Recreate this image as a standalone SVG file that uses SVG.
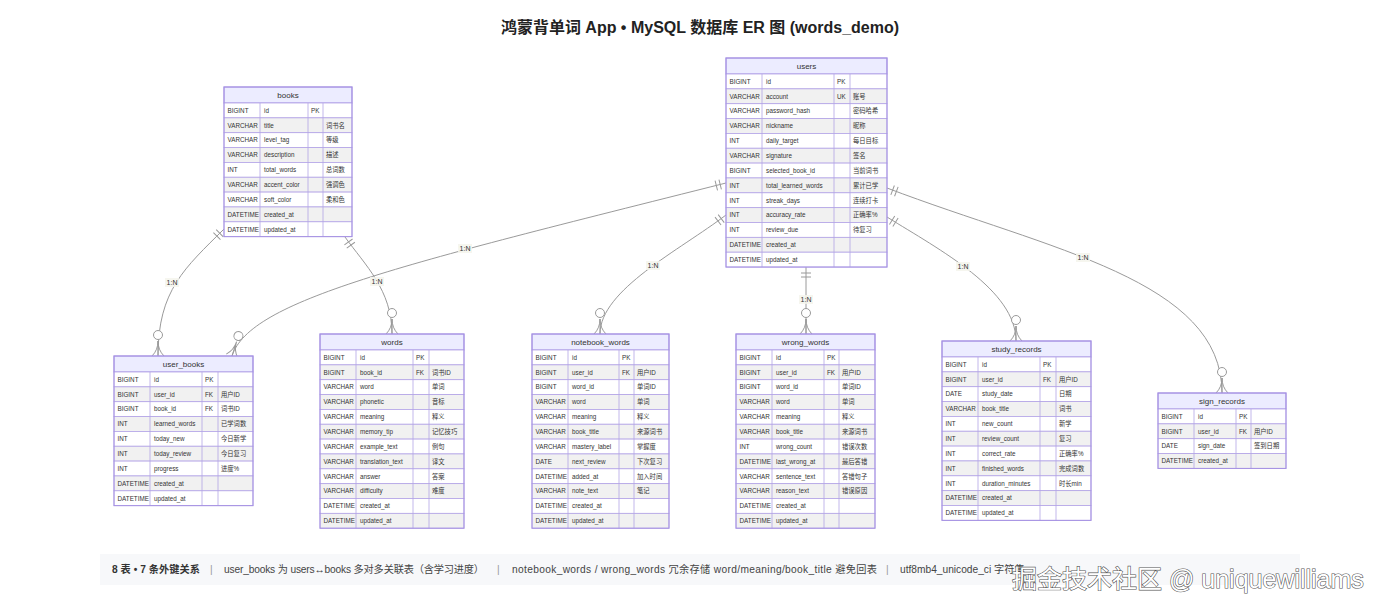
<svg xmlns="http://www.w3.org/2000/svg" width="1400" height="611" viewBox="0 0 1400 611">
<style>
.hd{fill:#ECECFF;stroke:#a591e3;stroke-width:1}
.r0{fill:#ffffff;stroke:#b3a4e6;stroke-width:0.8}
.r1{fill:#f1f1f1;stroke:#b3a4e6;stroke-width:0.8}
.vl{stroke:#b3a4e6;stroke-width:0.8;fill:none}
.ol{fill:none;stroke:#a591e3;stroke-width:1}
.c{font-family:"Liberation Sans","Noto Sans CJK SC",sans-serif;font-size:6.3px;fill:#333}
.h{font-family:"Liberation Sans","Noto Sans CJK SC",sans-serif;font-size:8px;fill:#333;text-anchor:middle}
.e{fill:none;stroke:#9a9a9a;stroke-width:1}
.lb{font-family:"Liberation Sans",sans-serif;font-size:7px;fill:#333;text-anchor:middle}
.lbg{fill:#f4f4ec;opacity:0.85}
.title{font-family:"Liberation Sans","Noto Sans CJK SC",sans-serif;font-size:16px;font-weight:bold;fill:#222;text-anchor:middle}
.ft{font-family:"Liberation Sans","Noto Sans CJK SC",sans-serif;font-size:10.2px;fill:#444}
.ftb{font-family:"Liberation Sans","Noto Sans CJK SC",sans-serif;font-size:10.2px;fill:#333;font-weight:bold}
.sep{font-family:"Liberation Sans",sans-serif;font-size:10.2px;fill:#999}
.wm{font-family:"Liberation Sans","Noto Sans CJK SC",sans-serif;font-size:25px;fill:#fff;stroke:#555;stroke-width:1.2;paint-order:stroke}
</style>
<defs>
<marker id="one" markerUnits="userSpaceOnUse" markerWidth="20" markerHeight="20" viewBox="0 -10 20 20" refX="0" refY="0" orient="auto">
<path d="M6,-5 L6,5 M10,-5 L10,5" stroke="#9a9a9a" stroke-width="1" fill="none"/>
</marker>
<marker id="zm" markerUnits="userSpaceOnUse" markerWidth="30" markerHeight="20" viewBox="-28 -10 30 20" refX="0" refY="0" orient="auto">
<path d="M-15,0 Q-6,0 0,-6 M-15,0 Q-6,0 0,6 M-15,0 L0,0" stroke="#9a9a9a" stroke-width="1" fill="none"/>
<circle cx="-21" cy="0" r="4.5" fill="#fff" stroke="#9a9a9a" stroke-width="1"/>
</marker>
</defs>
<rect width="1400" height="611" fill="#fff"/>
<text class="title" x="700" y="33">鸿蒙背单词 App • MySQL 数据库 ER 图 (words_demo)</text>

<g id="connectors">
<path class="e" d="M224,229 C185,268 158,290 158,356" marker-start="url(#one)" marker-end="url(#zm)"/>
<path class="e" d="M345,237 C365,265 392,290 392,334" marker-start="url(#one)" marker-end="url(#zm)"/>
<path class="e" d="M726,183 C400,265 250,300 232,356" marker-start="url(#one)" marker-end="url(#zm)"/>
<path class="e" d="M726,215 C680,250 600,290 600,334" marker-start="url(#one)" marker-end="url(#zm)"/>
<path class="e" d="M806,267 L806,334" marker-start="url(#one)" marker-end="url(#zm)"/>
<path class="e" d="M887,217 C940,250 1016,290 1016,341" marker-start="url(#one)" marker-end="url(#zm)"/>
<path class="e" d="M887,188 C1050,250 1222,280 1222,393" marker-start="url(#one)" marker-end="url(#zm)"/>
<g>
<rect class="lbg" x="165" y="278" width="14" height="9"/><text class="lb" x="172" y="285">1:N</text>
<rect class="lbg" x="370" y="277" width="14" height="9"/><text class="lb" x="377" y="284">1:N</text>
<rect class="lbg" x="458" y="244" width="14" height="9"/><text class="lb" x="465" y="251">1:N</text>
<rect class="lbg" x="646" y="261" width="14" height="9"/><text class="lb" x="653" y="268">1:N</text>
<rect class="lbg" x="799" y="295" width="14" height="9"/><text class="lb" x="806" y="302">1:N</text>
<rect class="lbg" x="956" y="262" width="14" height="9"/><text class="lb" x="963" y="269">1:N</text>
<rect class="lbg" x="1076" y="253" width="14" height="9"/><text class="lb" x="1083" y="260">1:N</text>
</g>
</g>

<g id="books" transform="translate(224,87)">
<rect class="hd" x="0" y="0" width="128" height="16"/>
<text class="h" x="64" y="11">books</text>
<rect class="r0" x="0" y="16" width="128" height="14.85"/>
<rect class="r1" x="0" y="30.85" width="128" height="14.85"/>
<rect class="r0" x="0" y="45.7" width="128" height="14.85"/>
<rect class="r1" x="0" y="60.55" width="128" height="14.85"/>
<rect class="r0" x="0" y="75.4" width="128" height="14.85"/>
<rect class="r1" x="0" y="90.25" width="128" height="14.85"/>
<rect class="r0" x="0" y="105.1" width="128" height="14.85"/>
<rect class="r1" x="0" y="119.95" width="128" height="14.85"/>
<rect class="r0" x="0" y="134.8" width="128" height="14.85"/>
<path class="vl" d="M36,16 V149.65 M84,16 V149.65 M99,16 V149.65"/>
<rect class="ol" x="0" y="0" width="128" height="149.65"/>
<text class="c" y="25.7"><tspan x="3.5">BIGINT</tspan><tspan x="40">id</tspan><tspan x="87">PK</tspan></text>
<text class="c" y="40.55"><tspan x="3.5">VARCHAR</tspan><tspan x="40">title</tspan><tspan x="102">词书名</tspan></text>
<text class="c" y="55.4"><tspan x="3.5">VARCHAR</tspan><tspan x="40">level_tag</tspan><tspan x="102">等级</tspan></text>
<text class="c" y="70.25"><tspan x="3.5">VARCHAR</tspan><tspan x="40">description</tspan><tspan x="102">描述</tspan></text>
<text class="c" y="85.1"><tspan x="3.5">INT</tspan><tspan x="40">total_words</tspan><tspan x="102">总词数</tspan></text>
<text class="c" y="99.95"><tspan x="3.5">VARCHAR</tspan><tspan x="40">accent_color</tspan><tspan x="102">强调色</tspan></text>
<text class="c" y="114.8"><tspan x="3.5">VARCHAR</tspan><tspan x="40">soft_color</tspan><tspan x="102">柔和色</tspan></text>
<text class="c" y="129.65"><tspan x="3.5">DATETIME</tspan><tspan x="40">created_at</tspan></text>
<text class="c" y="144.5"><tspan x="3.5">DATETIME</tspan><tspan x="40">updated_at</tspan></text>
</g>

<g id="users" transform="translate(726,58)">
<rect class="hd" x="0" y="0" width="161" height="16"/>
<text class="h" x="80.5" y="11">users</text>
<rect class="r0" x="0" y="16" width="161" height="14.85"/>
<rect class="r1" x="0" y="30.85" width="161" height="14.85"/>
<rect class="r0" x="0" y="45.7" width="161" height="14.85"/>
<rect class="r1" x="0" y="60.55" width="161" height="14.85"/>
<rect class="r0" x="0" y="75.4" width="161" height="14.85"/>
<rect class="r1" x="0" y="90.25" width="161" height="14.85"/>
<rect class="r0" x="0" y="105.1" width="161" height="14.85"/>
<rect class="r1" x="0" y="119.95" width="161" height="14.85"/>
<rect class="r0" x="0" y="134.8" width="161" height="14.85"/>
<rect class="r1" x="0" y="149.65" width="161" height="14.85"/>
<rect class="r0" x="0" y="164.5" width="161" height="14.85"/>
<rect class="r1" x="0" y="179.35" width="161" height="14.85"/>
<rect class="r0" x="0" y="194.2" width="161" height="14.85"/>
<path class="vl" d="M36,16 V209.05 M108,16 V209.05 M124,16 V209.05"/>
<rect class="ol" x="0" y="0" width="161" height="209.05"/>
<text class="c" y="25.7"><tspan x="3.5">BIGINT</tspan><tspan x="40">id</tspan><tspan x="111">PK</tspan></text>
<text class="c" y="40.55"><tspan x="3.5">VARCHAR</tspan><tspan x="40">account</tspan><tspan x="111">UK</tspan><tspan x="127">账号</tspan></text>
<text class="c" y="55.4"><tspan x="3.5">VARCHAR</tspan><tspan x="40">password_hash</tspan><tspan x="127">密码哈希</tspan></text>
<text class="c" y="70.25"><tspan x="3.5">VARCHAR</tspan><tspan x="40">nickname</tspan><tspan x="127">昵称</tspan></text>
<text class="c" y="85.1"><tspan x="3.5">INT</tspan><tspan x="40">daily_target</tspan><tspan x="127">每日目标</tspan></text>
<text class="c" y="99.95"><tspan x="3.5">VARCHAR</tspan><tspan x="40">signature</tspan><tspan x="127">签名</tspan></text>
<text class="c" y="114.8"><tspan x="3.5">BIGINT</tspan><tspan x="40">selected_book_id</tspan><tspan x="127">当前词书</tspan></text>
<text class="c" y="129.65"><tspan x="3.5">INT</tspan><tspan x="40">total_learned_words</tspan><tspan x="127">累计已学</tspan></text>
<text class="c" y="144.5"><tspan x="3.5">INT</tspan><tspan x="40">streak_days</tspan><tspan x="127">连续打卡</tspan></text>
<text class="c" y="159.35"><tspan x="3.5">INT</tspan><tspan x="40">accuracy_rate</tspan><tspan x="127">正确率%</tspan></text>
<text class="c" y="174.2"><tspan x="3.5">INT</tspan><tspan x="40">review_due</tspan><tspan x="127">待复习</tspan></text>
<text class="c" y="189.05"><tspan x="3.5">DATETIME</tspan><tspan x="40">created_at</tspan></text>
<text class="c" y="203.9"><tspan x="3.5">DATETIME</tspan><tspan x="40">updated_at</tspan></text>
</g>

<g id="user_books" transform="translate(114,356)">
<rect class="hd" x="0" y="0" width="139" height="16"/>
<text class="h" x="69.5" y="11">user_books</text>
<rect class="r0" x="0" y="16" width="139" height="14.85"/>
<rect class="r1" x="0" y="30.85" width="139" height="14.85"/>
<rect class="r0" x="0" y="45.7" width="139" height="14.85"/>
<rect class="r1" x="0" y="60.55" width="139" height="14.85"/>
<rect class="r0" x="0" y="75.4" width="139" height="14.85"/>
<rect class="r1" x="0" y="90.25" width="139" height="14.85"/>
<rect class="r0" x="0" y="105.1" width="139" height="14.85"/>
<rect class="r1" x="0" y="119.95" width="139" height="14.85"/>
<rect class="r0" x="0" y="134.8" width="139" height="14.85"/>
<path class="vl" d="M36,16 V149.65 M88,16 V149.65 M104,16 V149.65"/>
<rect class="ol" x="0" y="0" width="139" height="149.65"/>
<text class="c" y="25.7"><tspan x="3.5">BIGINT</tspan><tspan x="40">id</tspan><tspan x="91">PK</tspan></text>
<text class="c" y="40.55"><tspan x="3.5">BIGINT</tspan><tspan x="40">user_id</tspan><tspan x="91">FK</tspan><tspan x="107">用户ID</tspan></text>
<text class="c" y="55.4"><tspan x="3.5">BIGINT</tspan><tspan x="40">book_id</tspan><tspan x="91">FK</tspan><tspan x="107">词书ID</tspan></text>
<text class="c" y="70.25"><tspan x="3.5">INT</tspan><tspan x="40">learned_words</tspan><tspan x="107">已学词数</tspan></text>
<text class="c" y="85.1"><tspan x="3.5">INT</tspan><tspan x="40">today_new</tspan><tspan x="107">今日新学</tspan></text>
<text class="c" y="99.95"><tspan x="3.5">INT</tspan><tspan x="40">today_review</tspan><tspan x="107">今日复习</tspan></text>
<text class="c" y="114.8"><tspan x="3.5">INT</tspan><tspan x="40">progress</tspan><tspan x="107">进度%</tspan></text>
<text class="c" y="129.65"><tspan x="3.5">DATETIME</tspan><tspan x="40">created_at</tspan></text>
<text class="c" y="144.5"><tspan x="3.5">DATETIME</tspan><tspan x="40">updated_at</tspan></text>
</g>

<g id="words" transform="translate(320,334)">
<rect class="hd" x="0" y="0" width="144" height="16"/>
<text class="h" x="72" y="11">words</text>
<rect class="r0" x="0" y="16" width="144" height="14.85"/>
<rect class="r1" x="0" y="30.85" width="144" height="14.85"/>
<rect class="r0" x="0" y="45.7" width="144" height="14.85"/>
<rect class="r1" x="0" y="60.55" width="144" height="14.85"/>
<rect class="r0" x="0" y="75.4" width="144" height="14.85"/>
<rect class="r1" x="0" y="90.25" width="144" height="14.85"/>
<rect class="r0" x="0" y="105.1" width="144" height="14.85"/>
<rect class="r1" x="0" y="119.95" width="144" height="14.85"/>
<rect class="r0" x="0" y="134.8" width="144" height="14.85"/>
<rect class="r1" x="0" y="149.65" width="144" height="14.85"/>
<rect class="r0" x="0" y="164.5" width="144" height="14.85"/>
<rect class="r1" x="0" y="179.35" width="144" height="14.85"/>
<path class="vl" d="M36,16 V194.2 M93,16 V194.2 M109,16 V194.2"/>
<rect class="ol" x="0" y="0" width="144" height="194.2"/>
<text class="c" y="25.7"><tspan x="3.5">BIGINT</tspan><tspan x="40">id</tspan><tspan x="96">PK</tspan></text>
<text class="c" y="40.55"><tspan x="3.5">BIGINT</tspan><tspan x="40">book_id</tspan><tspan x="96">FK</tspan><tspan x="112">词书ID</tspan></text>
<text class="c" y="55.4"><tspan x="3.5">VARCHAR</tspan><tspan x="40">word</tspan><tspan x="112">单词</tspan></text>
<text class="c" y="70.25"><tspan x="3.5">VARCHAR</tspan><tspan x="40">phonetic</tspan><tspan x="112">音标</tspan></text>
<text class="c" y="85.1"><tspan x="3.5">VARCHAR</tspan><tspan x="40">meaning</tspan><tspan x="112">释义</tspan></text>
<text class="c" y="99.95"><tspan x="3.5">VARCHAR</tspan><tspan x="40">memory_tip</tspan><tspan x="112">记忆技巧</tspan></text>
<text class="c" y="114.8"><tspan x="3.5">VARCHAR</tspan><tspan x="40">example_text</tspan><tspan x="112">例句</tspan></text>
<text class="c" y="129.65"><tspan x="3.5">VARCHAR</tspan><tspan x="40">translation_text</tspan><tspan x="112">译文</tspan></text>
<text class="c" y="144.5"><tspan x="3.5">VARCHAR</tspan><tspan x="40">answer</tspan><tspan x="112">答案</tspan></text>
<text class="c" y="159.35"><tspan x="3.5">VARCHAR</tspan><tspan x="40">difficulty</tspan><tspan x="112">难度</tspan></text>
<text class="c" y="174.2"><tspan x="3.5">DATETIME</tspan><tspan x="40">created_at</tspan></text>
<text class="c" y="189.05"><tspan x="3.5">DATETIME</tspan><tspan x="40">updated_at</tspan></text>
</g>

<g id="notebook_words" transform="translate(532,334)">
<rect class="hd" x="0" y="0" width="137" height="16"/>
<text class="h" x="68.5" y="11">notebook_words</text>
<rect class="r0" x="0" y="16" width="137" height="14.85"/>
<rect class="r1" x="0" y="30.85" width="137" height="14.85"/>
<rect class="r0" x="0" y="45.7" width="137" height="14.85"/>
<rect class="r1" x="0" y="60.55" width="137" height="14.85"/>
<rect class="r0" x="0" y="75.4" width="137" height="14.85"/>
<rect class="r1" x="0" y="90.25" width="137" height="14.85"/>
<rect class="r0" x="0" y="105.1" width="137" height="14.85"/>
<rect class="r1" x="0" y="119.95" width="137" height="14.85"/>
<rect class="r0" x="0" y="134.8" width="137" height="14.85"/>
<rect class="r1" x="0" y="149.65" width="137" height="14.85"/>
<rect class="r0" x="0" y="164.5" width="137" height="14.85"/>
<rect class="r1" x="0" y="179.35" width="137" height="14.85"/>
<path class="vl" d="M36,16 V194.2 M87,16 V194.2 M102,16 V194.2"/>
<rect class="ol" x="0" y="0" width="137" height="194.2"/>
<text class="c" y="25.7"><tspan x="3.5">BIGINT</tspan><tspan x="40">id</tspan><tspan x="90">PK</tspan></text>
<text class="c" y="40.55"><tspan x="3.5">BIGINT</tspan><tspan x="40">user_id</tspan><tspan x="90">FK</tspan><tspan x="105">用户ID</tspan></text>
<text class="c" y="55.4"><tspan x="3.5">BIGINT</tspan><tspan x="40">word_id</tspan><tspan x="105">单词ID</tspan></text>
<text class="c" y="70.25"><tspan x="3.5">VARCHAR</tspan><tspan x="40">word</tspan><tspan x="105">单词</tspan></text>
<text class="c" y="85.1"><tspan x="3.5">VARCHAR</tspan><tspan x="40">meaning</tspan><tspan x="105">释义</tspan></text>
<text class="c" y="99.95"><tspan x="3.5">VARCHAR</tspan><tspan x="40">book_title</tspan><tspan x="105">来源词书</tspan></text>
<text class="c" y="114.8"><tspan x="3.5">VARCHAR</tspan><tspan x="40">mastery_label</tspan><tspan x="105">掌握度</tspan></text>
<text class="c" y="129.65"><tspan x="3.5">DATE</tspan><tspan x="40">next_review</tspan><tspan x="105">下次复习</tspan></text>
<text class="c" y="144.5"><tspan x="3.5">DATETIME</tspan><tspan x="40">added_at</tspan><tspan x="105">加入时间</tspan></text>
<text class="c" y="159.35"><tspan x="3.5">VARCHAR</tspan><tspan x="40">note_text</tspan><tspan x="105">笔记</tspan></text>
<text class="c" y="174.2"><tspan x="3.5">DATETIME</tspan><tspan x="40">created_at</tspan></text>
<text class="c" y="189.05"><tspan x="3.5">DATETIME</tspan><tspan x="40">updated_at</tspan></text>
</g>

<g id="wrong_words" transform="translate(736,334)">
<rect class="hd" x="0" y="0" width="139" height="16"/>
<text class="h" x="69.5" y="11">wrong_words</text>
<rect class="r0" x="0" y="16" width="139" height="14.85"/>
<rect class="r1" x="0" y="30.85" width="139" height="14.85"/>
<rect class="r0" x="0" y="45.7" width="139" height="14.85"/>
<rect class="r1" x="0" y="60.55" width="139" height="14.85"/>
<rect class="r0" x="0" y="75.4" width="139" height="14.85"/>
<rect class="r1" x="0" y="90.25" width="139" height="14.85"/>
<rect class="r0" x="0" y="105.1" width="139" height="14.85"/>
<rect class="r1" x="0" y="119.95" width="139" height="14.85"/>
<rect class="r0" x="0" y="134.8" width="139" height="14.85"/>
<rect class="r1" x="0" y="149.65" width="139" height="14.85"/>
<rect class="r0" x="0" y="164.5" width="139" height="14.85"/>
<rect class="r1" x="0" y="179.35" width="139" height="14.85"/>
<path class="vl" d="M36,16 V194.2 M88,16 V194.2 M103,16 V194.2"/>
<rect class="ol" x="0" y="0" width="139" height="194.2"/>
<text class="c" y="25.7"><tspan x="3.5">BIGINT</tspan><tspan x="40">id</tspan><tspan x="91">PK</tspan></text>
<text class="c" y="40.55"><tspan x="3.5">BIGINT</tspan><tspan x="40">user_id</tspan><tspan x="91">FK</tspan><tspan x="106">用户ID</tspan></text>
<text class="c" y="55.4"><tspan x="3.5">BIGINT</tspan><tspan x="40">word_id</tspan><tspan x="106">单词ID</tspan></text>
<text class="c" y="70.25"><tspan x="3.5">VARCHAR</tspan><tspan x="40">word</tspan><tspan x="106">单词</tspan></text>
<text class="c" y="85.1"><tspan x="3.5">VARCHAR</tspan><tspan x="40">meaning</tspan><tspan x="106">释义</tspan></text>
<text class="c" y="99.95"><tspan x="3.5">VARCHAR</tspan><tspan x="40">book_title</tspan><tspan x="106">来源词书</tspan></text>
<text class="c" y="114.8"><tspan x="3.5">INT</tspan><tspan x="40">wrong_count</tspan><tspan x="106">错误次数</tspan></text>
<text class="c" y="129.65"><tspan x="3.5">DATETIME</tspan><tspan x="40">last_wrong_at</tspan><tspan x="106">最后答错</tspan></text>
<text class="c" y="144.5"><tspan x="3.5">VARCHAR</tspan><tspan x="40">sentence_text</tspan><tspan x="106">答错句子</tspan></text>
<text class="c" y="159.35"><tspan x="3.5">VARCHAR</tspan><tspan x="40">reason_text</tspan><tspan x="106">错误原因</tspan></text>
<text class="c" y="174.2"><tspan x="3.5">DATETIME</tspan><tspan x="40">created_at</tspan></text>
<text class="c" y="189.05"><tspan x="3.5">DATETIME</tspan><tspan x="40">updated_at</tspan></text>
</g>

<g id="study_records" transform="translate(942,341)">
<rect class="hd" x="0" y="0" width="149" height="16"/>
<text class="h" x="74.5" y="11">study_records</text>
<rect class="r0" x="0" y="16" width="149" height="14.85"/>
<rect class="r1" x="0" y="30.85" width="149" height="14.85"/>
<rect class="r0" x="0" y="45.7" width="149" height="14.85"/>
<rect class="r1" x="0" y="60.55" width="149" height="14.85"/>
<rect class="r0" x="0" y="75.4" width="149" height="14.85"/>
<rect class="r1" x="0" y="90.25" width="149" height="14.85"/>
<rect class="r0" x="0" y="105.1" width="149" height="14.85"/>
<rect class="r1" x="0" y="119.95" width="149" height="14.85"/>
<rect class="r0" x="0" y="134.8" width="149" height="14.85"/>
<rect class="r1" x="0" y="149.65" width="149" height="14.85"/>
<rect class="r0" x="0" y="164.5" width="149" height="14.85"/>
<path class="vl" d="M36,16 V179.35 M98,16 V179.35 M114,16 V179.35"/>
<rect class="ol" x="0" y="0" width="149" height="179.35"/>
<text class="c" y="25.7"><tspan x="3.5">BIGINT</tspan><tspan x="40">id</tspan><tspan x="101">PK</tspan></text>
<text class="c" y="40.55"><tspan x="3.5">BIGINT</tspan><tspan x="40">user_id</tspan><tspan x="101">FK</tspan><tspan x="117">用户ID</tspan></text>
<text class="c" y="55.4"><tspan x="3.5">DATE</tspan><tspan x="40">study_date</tspan><tspan x="117">日期</tspan></text>
<text class="c" y="70.25"><tspan x="3.5">VARCHAR</tspan><tspan x="40">book_title</tspan><tspan x="117">词书</tspan></text>
<text class="c" y="85.1"><tspan x="3.5">INT</tspan><tspan x="40">new_count</tspan><tspan x="117">新学</tspan></text>
<text class="c" y="99.95"><tspan x="3.5">INT</tspan><tspan x="40">review_count</tspan><tspan x="117">复习</tspan></text>
<text class="c" y="114.8"><tspan x="3.5">INT</tspan><tspan x="40">correct_rate</tspan><tspan x="117">正确率%</tspan></text>
<text class="c" y="129.65"><tspan x="3.5">INT</tspan><tspan x="40">finished_words</tspan><tspan x="117">完成词数</tspan></text>
<text class="c" y="144.5"><tspan x="3.5">INT</tspan><tspan x="40">duration_minutes</tspan><tspan x="117">时长min</tspan></text>
<text class="c" y="159.35"><tspan x="3.5">DATETIME</tspan><tspan x="40">created_at</tspan></text>
<text class="c" y="174.2"><tspan x="3.5">DATETIME</tspan><tspan x="40">updated_at</tspan></text>
</g>

<g id="sign_records" transform="translate(1158,393)">
<rect class="hd" x="0" y="0" width="128" height="16"/>
<text class="h" x="64" y="11">sign_records</text>
<rect class="r0" x="0" y="16" width="128" height="14.85"/>
<rect class="r1" x="0" y="30.85" width="128" height="14.85"/>
<rect class="r0" x="0" y="45.7" width="128" height="14.85"/>
<rect class="r1" x="0" y="60.55" width="128" height="14.85"/>
<path class="vl" d="M36,16 V75.4 M78,16 V75.4 M93,16 V75.4"/>
<rect class="ol" x="0" y="0" width="128" height="75.4"/>
<text class="c" y="25.7"><tspan x="3.5">BIGINT</tspan><tspan x="40">id</tspan><tspan x="81">PK</tspan></text>
<text class="c" y="40.55"><tspan x="3.5">BIGINT</tspan><tspan x="40">user_id</tspan><tspan x="81">FK</tspan><tspan x="96">用户ID</tspan></text>
<text class="c" y="55.4"><tspan x="3.5">DATE</tspan><tspan x="40">sign_date</tspan><tspan x="96">签到日期</tspan></text>
<text class="c" y="70.25"><tspan x="3.5">DATETIME</tspan><tspan x="40">created_at</tspan></text>
</g>

<g id="footer">
<rect x="100" y="554" width="1200" height="31" fill="#f7f8fa"/>
<text class="ftb" x="112" y="573" textLength="88" lengthAdjust="spacing">8 表 • 7 条外键关系</text>
<text class="sep" x="210" y="573">|</text>
<text class="ft" x="224" y="573" textLength="260" lengthAdjust="spacing">user_books 为 users↔books 多对多关联表（含学习进度）</text>
<text class="sep" x="497" y="573">|</text>
<text class="ft" x="512" y="573" textLength="365" lengthAdjust="spacing">notebook_words / wrong_words 冗余存储 word/meaning/book_title 避免回表</text>
<text class="sep" x="886" y="573">|</text>
<text class="ft" x="900" y="573">utf8mb4_unicode_ci 字符集</text>
<text class="wm" x="1012" y="588">掘金技术社区 @ uniquewilliams</text>
</g>
</svg>
